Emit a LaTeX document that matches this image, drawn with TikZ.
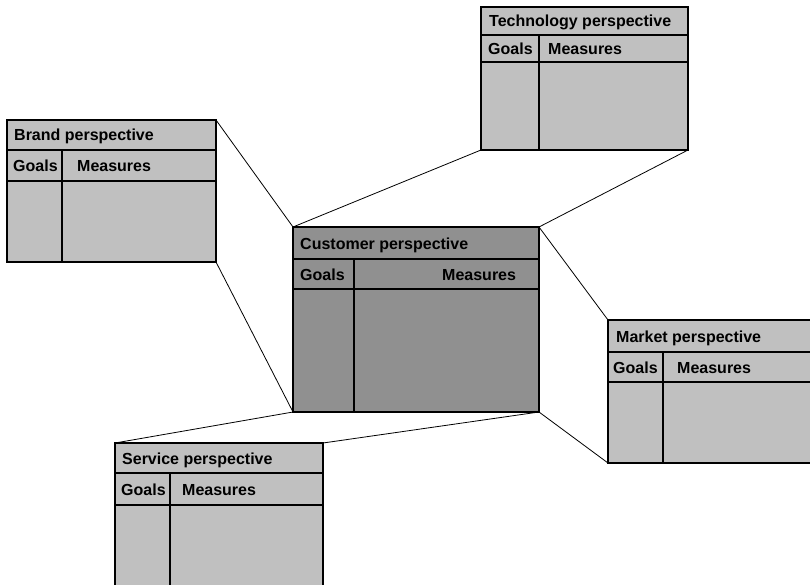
\documentclass[tikz,border=0pt]{standalone}
\usepackage{fontspec}
\setmainfont{Liberation Sans}
\begin{document}
\begin{tikzpicture}[x=1pt,y=-1pt,
  pbox/.style={draw=black,line width=1.2pt,fill=boxgray,inner sep=0pt,outer sep=0pt,anchor=north west},
  cbox/.style={pbox,fill=custgray},
  rule/.style={draw=black,line width=1.1pt},
  conn/.style={draw=black,line width=0.8pt},
  lbl/.style={inner sep=0pt,anchor=base west,font=\fontsize{16}{19}\selectfont\bfseries}]
\definecolor{boxgray}{HTML}{C0C0C0}
\definecolor{custgray}{HTML}{909090}
\clip (0,0) rectangle (810,585);
\fill[white] (0,0) rectangle (810,585);
% Technology
\node[pbox,minimum width=207pt,minimum height=143pt] (tech) at (481,7) {};
\draw[rule] (481,35) -- (688,35) (481,62) -- (688,62) (539,35) -- (539,150);
\node[lbl] (tech-t) at (489,27) {Technology perspective};
\node[lbl] (tech-g) at (488,54.5) {Goals};
\node[lbl] (tech-m) at (548,54.5) {Measures};
% Brand
\node[pbox,minimum width=209pt,minimum height=142pt] (brand) at (7,120) {};
\draw[rule] (7,150) -- (216,150) (7,181) -- (216,181) (62,150) -- (62,262);
\node[lbl] (brand-t) at (14,141) {Brand perspective};
\node[lbl] (brand-g) at (13,171.5) {Goals};
\node[lbl] (brand-m) at (77,171.5) {Measures};
% Customer
\node[cbox,minimum width=246pt,minimum height=185pt] (cust) at (293,227) {};
\draw[rule] (293,259) -- (539,259) (293,289) -- (539,289) (354,259) -- (354,412);
\node[lbl] (cust-t) at (300,249) {Customer perspective};
\node[lbl] (cust-g) at (300,280) {Goals};
\node[lbl] (cust-m) at (442,280) {Measures};
% Market
\node[pbox,minimum width=207pt,minimum height=143pt] (market) at (608,320) {};
\draw[rule] (608,352) -- (815,352) (608,382) -- (815,382) (663,352) -- (663,463);
\node[lbl] (market-t) at (616,342) {Market perspective};
\node[lbl] (market-g) at (613,373) {Goals};
\node[lbl] (market-m) at (677,373) {Measures};
% Service
\node[pbox,minimum width=208pt,minimum height=147pt] (serv) at (115,443) {};
\draw[rule] (115,473) -- (323,473) (115,505) -- (323,505) (170,473) -- (170,590);
\node[lbl] (serv-t) at (122,464) {Service perspective};
\node[lbl] (serv-g) at (121,495) {Goals};
\node[lbl] (serv-m) at (182,495) {Measures};
% Connectors
\draw[conn] (tech.south west) -- (cust.north west);
\draw[conn] (tech.south east) -- (cust.north east);
\draw[conn] (brand.north east) -- (cust.north west);
\draw[conn] (brand.south east) -- (cust.south west);
\draw[conn] (market.north west) -- (cust.north east);
\draw[conn] (market.south west) -- (cust.south east);
\draw[conn] (serv.north west) -- (cust.south west);
\draw[conn] (serv.north east) -- (cust.south east);
\end{tikzpicture}
\end{document}
